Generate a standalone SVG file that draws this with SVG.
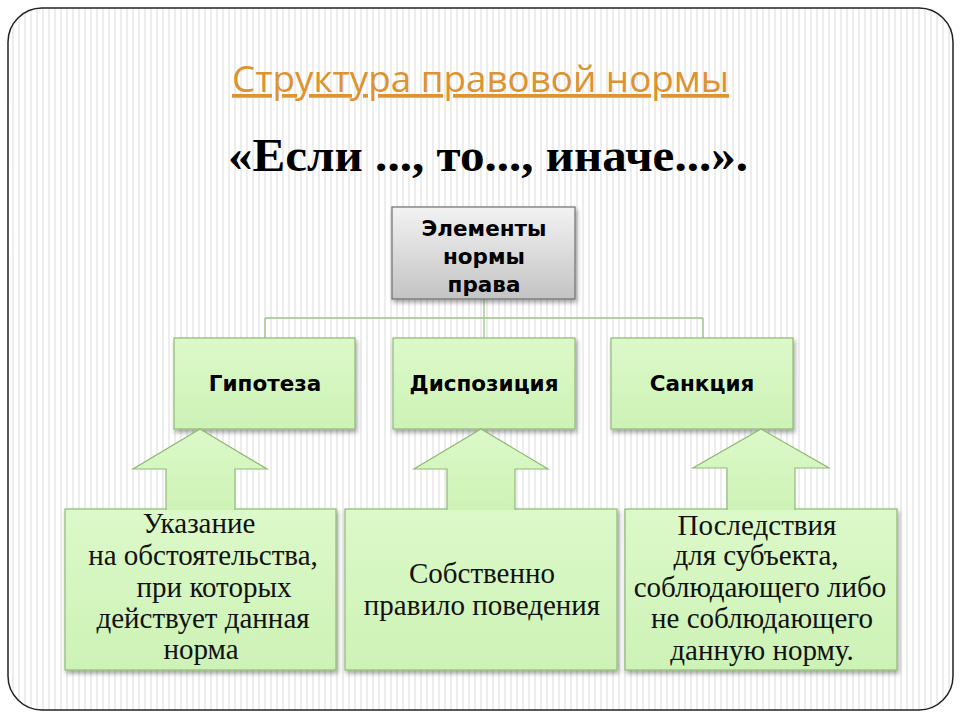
<svg xmlns="http://www.w3.org/2000/svg" width="960" height="720" viewBox="0 0 960 720">
<defs>
<pattern id="stripes" width="6" height="10" patternUnits="userSpaceOnUse">
<rect width="6" height="10" fill="#ffffff"/>
<rect x="0" width="2" height="10" fill="#ededed"/>
</pattern>
<linearGradient id="gGreen" x1="0" y1="0" x2="0" y2="1">
<stop offset="0" stop-color="#dcf9c9"/>
<stop offset="1" stop-color="#cdf2b6"/>
</linearGradient>
<linearGradient id="gGray" x1="0" y1="0" x2="0" y2="1">
<stop offset="0" stop-color="#f2f2f2"/>
<stop offset="1" stop-color="#c4c4c4"/>
</linearGradient>
<filter id="shadow" x="-10%" y="-10%" width="125%" height="130%">
<feDropShadow dx="1.5" dy="3" stdDeviation="2" flood-color="#000" flood-opacity="0.35"/>
</filter>
</defs>
<style>
.box{fill:url(#gGreen);stroke:#8fba74;stroke-width:1.2;filter:url(#shadow)}
.gray{fill:url(#gGray);stroke:#6e6e6e;stroke-width:1.2;filter:url(#shadow)}
.arrow{fill:url(#gGreen);stroke:#8fba74;stroke-width:1.2}
.conn{fill:none;stroke:#9cc483;stroke-width:1.3}
.lbl{font-family:"DejaVu Sans",Verdana,sans-serif;font-weight:bold;font-size:21.5px;fill:#000;text-anchor:middle}
.desc{font-family:"Liberation Serif","Times New Roman",serif;font-size:29px;fill:#111;text-anchor:middle}
</style>
<rect x="0" y="0" width="960" height="720" fill="#ffffff"/>
<rect x="8" y="8" width="945" height="702" rx="34" ry="34" fill="url(#stripes)" stroke="#222" stroke-width="1.5"/>

<text x="480.5" y="92" font-family="'Open Sans','Noto Sans',sans-serif" font-size="37" fill="#dc9330" text-anchor="middle" text-decoration="underline" textLength="497" lengthAdjust="spacingAndGlyphs">Структура правовой нормы</text>
<text x="488" y="171" font-family="'Liberation Serif','Times New Roman',serif" font-weight="bold" font-size="46" fill="#000" text-anchor="middle" textLength="520" lengthAdjust="spacingAndGlyphs">«Если ..., то..., иначе...».</text>

<g id="connectors">
<path class="conn" d="M484 299 V338 M265 318 H703 M265 318 V338 M703 318 V338"/>
</g>

<g id="elements">
<rect class="gray" x="392" y="207" width="183" height="92"/>
<text class="lbl" x="484" y="236">Элементы</text>
<text class="lbl" x="484" y="264">нормы</text>
<text class="lbl" x="484" y="292">права</text>
</g>

<g id="hypothesis">
<rect class="box" x="174" y="338" width="181" height="91"/>
<text class="lbl" x="265" y="391">Гипотеза</text>
</g>
<g id="disposition">
<rect class="box" x="393" y="338" width="182" height="91"/>
<text class="lbl" x="484" y="391">Диспозиция</text>
</g>
<g id="sanction">
<rect class="box" x="611" y="338" width="182" height="91"/>
<text class="lbl" x="702" y="391">Санкция</text>
</g>

<g id="hypothesis-desc">
<rect class="box" x="65" y="509" width="271" height="161"/>
<path class="arrow" d="M166 510 V469 H133 L200 429 L267 469 H235 V510"/>
<text class="desc" x="199" y="533">Указание</text>
<text class="desc" x="203" y="565">на обстоятельства,</text>
<text class="desc" x="214" y="597">при которых</text>
<text class="desc" x="203" y="628">действует данная</text>
<text class="desc" x="201" y="659">норма</text>
</g>
<g id="disposition-desc">
<rect class="box" x="345" y="509" width="272" height="161"/>
<path class="arrow" d="M447 510 V469 H414 L481 429 L548 469 H515 V510"/>
<text class="desc" x="482" y="583">Собственно</text>
<text class="desc" x="482" y="615">правило поведения</text>
</g>
<g id="sanction-desc">
<rect class="box" x="625" y="509" width="272" height="161"/>
<path class="arrow" d="M727 510 V468 H693 L761 429 L829 468 H795 V510"/>
<text class="desc" x="757" y="535">Последствия</text>
<text class="desc" x="756" y="565">для субъекта,</text>
<text class="desc" x="760" y="597">соблюдающего либо</text>
<text class="desc" x="762" y="628">не соблюдающего</text>
<text class="desc" x="762" y="660">данную норму.</text>
</g>
</svg>
